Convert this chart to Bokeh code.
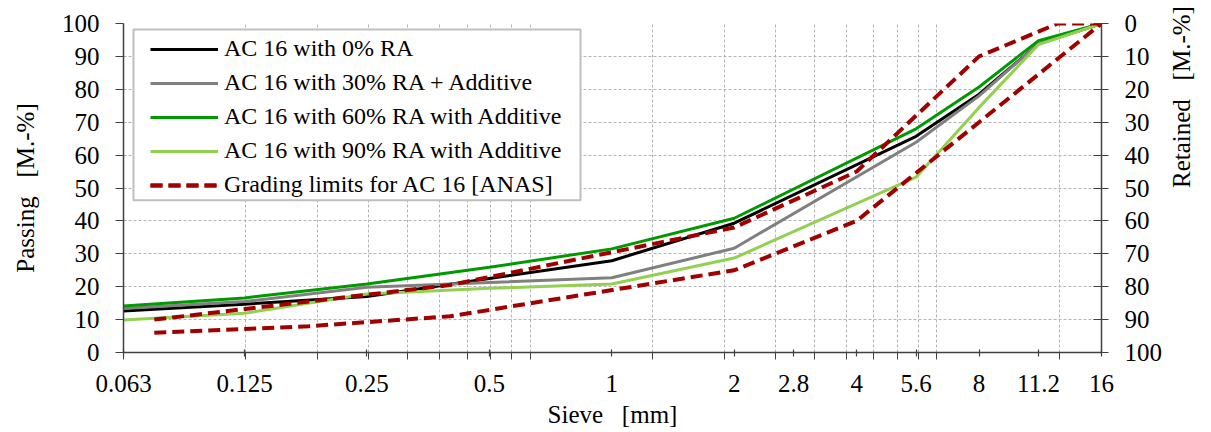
import math
from bokeh.plotting import figure
from bokeh.models import Range1d, LinearAxis, FixedTicker, BoxAnnotation
from bokeh.embed import file_html
from bokeh.resources import INLINE

# ---- data ----
sieves = [0.063, 0.125, 0.25, 0.5, 1, 2, 5.6, 8, 11.2, 16]
ra0 = [12.6, 14.7, 17.0, 22.5, 27.9, 39.3, 65.7, 78.5, 93.8, 100]
ra30 = [13.4, 15.5, 19.8, 21.3, 22.7, 31.7, 63.9, 78.0, 93.9, 100]
ra60 = [14.1, 16.6, 20.8, 25.9, 31.5, 40.8, 68.0, 80.7, 94.8, 100]
ra90 = [9.9, 11.9, 17.8, 19.5, 20.8, 28.7, 53.3, 74.5, 93.6, 100]

upper_x = [0.075, 0.18, 0.4, 2, 4, 8, 12.5, 16]
upper_y = [10, 15.5, 20.5, 38, 55, 90, 100, 100]
lower_x = [0.075, 0.18, 0.4, 2, 4, 8, 16]
lower_y = [6, 8, 11, 25, 40, 70, 100]

tick_values = [0.063, 0.125, 0.25, 0.5, 1, 2, 2.8, 4, 5.6, 8, 11.2, 16]
tick_labels = ["0.063", "0.125", "0.25", "0.5", "1", "2", "2.8", "4", "5.6", "8", "11.2", "16"]
y_ticks = list(range(0, 101, 10))

series_names = ["AC 16 with 0% RA", "AC 16 with 30% RA + Additive",
                "AC 16 with 60% RA with Additive", "AC 16 with 90% RA with Additive"]
limits_name = "Grading limits for AC 16 [ANAS]"

FONT = "Liberation Serif"
NB = "\u00a0"

p = figure(width=1211, height=432, x_axis_type="log",
           x_range=Range1d(0.063, 16), y_range=Range1d(0, 100),
           output_backend="svg", toolbar_location=None,
           min_border_left=123, min_border_right=105,
           min_border_top=23, min_border_bottom=80)
p.outline_line_color = None
p.background_fill_color = "white"
p.border_fill_color = "white"

# grid lines at 0.063 * k * 10^n
grid_x = [0.063 * k * 10 ** n for n in range(3) for k in range(1, 10) if 0.063 * k * 10 ** n <= 16.01]

# x axis
xa = p.xaxis[0]
xa.ticker = FixedTicker(ticks=tick_values, minor_ticks=grid_x)
xa.major_label_overrides = {v: s for v, s in zip(tick_values, tick_labels)}
xa.axis_label = "Sieve" + NB * 3 + "[mm]"

# left y axis
ya = p.yaxis[0]
ya.ticker = FixedTicker(ticks=y_ticks)
ya.axis_label = "Passing" + NB * 3 + "[M.-%]"

# right y axis (retained)
p.extra_y_ranges = {"ret": Range1d(start=100, end=0)}
ra = LinearAxis(y_range_name="ret", ticker=FixedTicker(ticks=y_ticks))
ra.axis_label = "Retained" + NB * 3 + "[M.-%]"
if "axis_label_orientation" in ra.properties():
    ra.axis_label_orientation = math.pi / 2
p.add_layout(ra, "right")

for ax in (xa, ya, ra):
    ax.major_label_text_font = FONT
    ax.major_label_text_font_size = "25px"
    ax.major_label_text_color = "black"
    ax.axis_label_text_font = FONT
    ax.axis_label_text_font_size = "25px"
    ax.axis_label_text_font_style = "normal"
    ax.axis_label_text_color = "black"
    ax.axis_line_color = "#404040"
    ax.axis_line_width = 1.5
    ax.major_tick_line_color = "#404040"
    ax.major_tick_line_width = 1.2
    ax.minor_tick_line_color = "#404040"

xa.major_tick_in = 3
xa.major_tick_out = 4
xa.minor_tick_in = 0
xa.minor_tick_out = 7
xa.major_label_standoff = 15
xa.axis_label_standoff = 6

ya.major_tick_in = 0
ya.major_tick_out = 8
ya.major_label_standoff = 16
ya.axis_label_standoff = 20

ra.major_tick_in = 8
ra.major_tick_out = 7
ra.major_label_standoff = 16
ra.axis_label_standoff = 16

# grids
p.xgrid.ticker = FixedTicker(ticks=grid_x)
p.ygrid.ticker = FixedTicker(ticks=y_ticks)
for g in (p.xgrid, p.ygrid):
    g.grid_line_color = "#b4b4b4"
    g.grid_line_dash = "3 2"
    g.grid_line_width = 1

# legend frame (drawn before the legend itself)
p.add_layout(BoxAnnotation(left=10, right=457, left_units="screen", right_units="screen",
                           top=98.2, bottom=46.3,
                           fill_color="white", fill_alpha=1.0,
                           line_color="#bfbfbf", line_width=2, line_alpha=1.0))

# series
colors = ["#000000", "#808080", "#009900", "#92d050"]
for vals, name, c in zip([ra0, ra30, ra60, ra90], series_names, colors):
    p.line(sieves, vals, line_color=c, line_width=3, legend_label=name)

dash_color = "#a00000"
p.line(upper_x, upper_y, line_color=dash_color, line_width=4, line_dash="12 6",
       legend_label=limits_name)
p.line(lower_x, lower_y, line_color=dash_color, line_width=4, line_dash="12 6",
       legend_label=limits_name)

lg = p.legend[0]
lg.location = (27, 154)
lg.margin = 0
lg.padding = 0
lg.spacing = 7
lg.glyph_width = 68
lg.glyph_height = 24
lg.label_height = 24
lg.label_standoff = 6
lg.label_text_font = FONT
lg.label_text_font_size = "24px"
lg.label_text_color = "black"
lg.border_line_color = None
lg.background_fill_alpha = 0.0

open("out.html", "w").write(file_html(p, INLINE))
